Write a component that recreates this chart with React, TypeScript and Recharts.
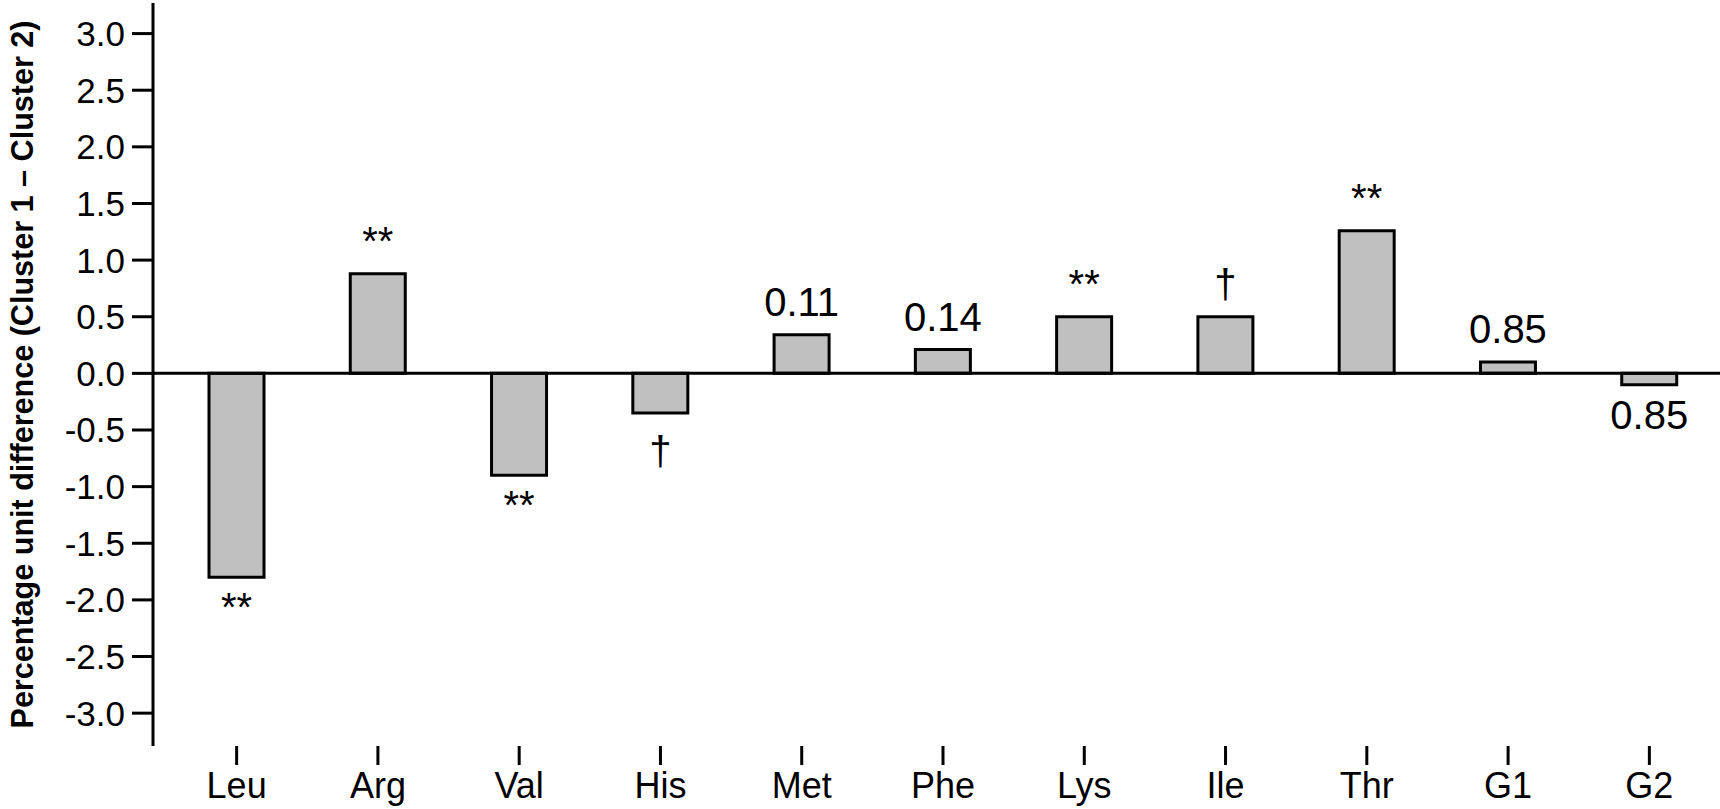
import React from 'react';
import {
  BarChart,
  Bar,
  XAxis,
  YAxis,
  ReferenceLine,
  LabelList
} from 'recharts';

// amino acids / groups on the x axis
const categories = ['Leu', 'Arg', 'Val', 'His', 'Met', 'Phe', 'Lys', 'Ile', 'Thr', 'G1', 'G2'];
// percentage unit difference, cluster 1 - cluster 2
const differences = [-1.8, 0.88, -0.9, -0.35, 0.34, 0.21, 0.5, 0.5, 1.26, 0.1, -0.1];
// significance marks / p-values printed beside each bar
const notes = ['**', '**', '**', '†', '0.11', '0.14', '**', '†', '**', '0.85', '0.85'];
const yTicks = [-3, -2.5, -2, -1.5, -1, -0.5, 0, 0.5, 1, 1.5, 2, 2.5, 3];

const data = categories.map((name, i) => ({
  name,
  value: differences[i],
  note: notes[i]
}));

const FONT = '"Liberation Sans", Arial, sans-serif';

const renderNote = (props: any) => {
  const { x, y, width, height, value, index } = props;
  const top = Math.min(y, y + height);
  const bottom = Math.max(y, y + height);
  const negative = differences[index] < 0;
  const cx = x + width / 2;
  // the dagger sits a little lower than the other marks under a bar
  const below = value === '†' ? 52 : 44;
  return (
    <text
      x={cx}
      y={negative ? bottom + below : top - 19}
      textAnchor="middle"
      fontFamily={FONT}
      fontSize={40}
      fill="#000"
    >
      {value}
    </text>
  );
};

const renderYLabel = (props: any) => {
  const vb = props.viewBox || {};
  const cy = (vb.y ?? 3) + (vb.height ?? 743) / 2;
  const bx = 33;
  return (
    <text
      x={bx}
      y={cy}
      transform={`rotate(-90, ${bx}, ${cy})`}
      textAnchor="middle"
      fontFamily={FONT}
      fontWeight="bold"
      fontSize={31}
      textLength={708}
      lengthAdjust="spacingAndGlyphs"
      fill="#000"
    >
      Percentage unit difference (Cluster 1 – Cluster 2)
    </text>
  );
};

const formatTick = (v: number) => v.toFixed(1);

export default function App() {
  return (
    <div style={{ width: 1720, height: 809, background: '#fff' }}>
      <style>{'body{margin:0;}'}</style>
      <BarChart
        width={1720}
        height={809}
        data={data}
        margin={{ top: 3, right: 0, bottom: 0, left: 0 }}
        barSize={55}
      >
        <XAxis
          dataKey="name"
          height={63}
          axisLine={false}
          tickLine={{ stroke: '#000', strokeWidth: 3 }}
          tickSize={19}
          tickMargin={7}
          padding={{ left: 13, right: 0 }}
          tick={{ fill: '#000', fontSize: 36, fontFamily: FONT }}
          interval={0}
        />
        <YAxis
          width={153}
          domain={[-3.29, 3.27]}
          ticks={yTicks}
          allowDataOverflow
          tickFormatter={formatTick}
          axisLine={{ stroke: '#000', strokeWidth: 3 }}
          tickLine={{ stroke: '#000', strokeWidth: 3 }}
          tickSize={21}
          tickMargin={7}
          tick={{ fill: '#000', fontSize: 35, fontFamily: FONT }}
          label={{ content: renderYLabel }}
        />
        <ReferenceLine y={0} stroke="#000" strokeWidth={3} />
        <Bar
          dataKey="value"
          fill="#c0c0c0"
          stroke="#000"
          strokeWidth={3}
          isAnimationActive={false}
        >
          <LabelList dataKey="note" content={renderNote} />
        </Bar>
      </BarChart>
    </div>
  );
}
